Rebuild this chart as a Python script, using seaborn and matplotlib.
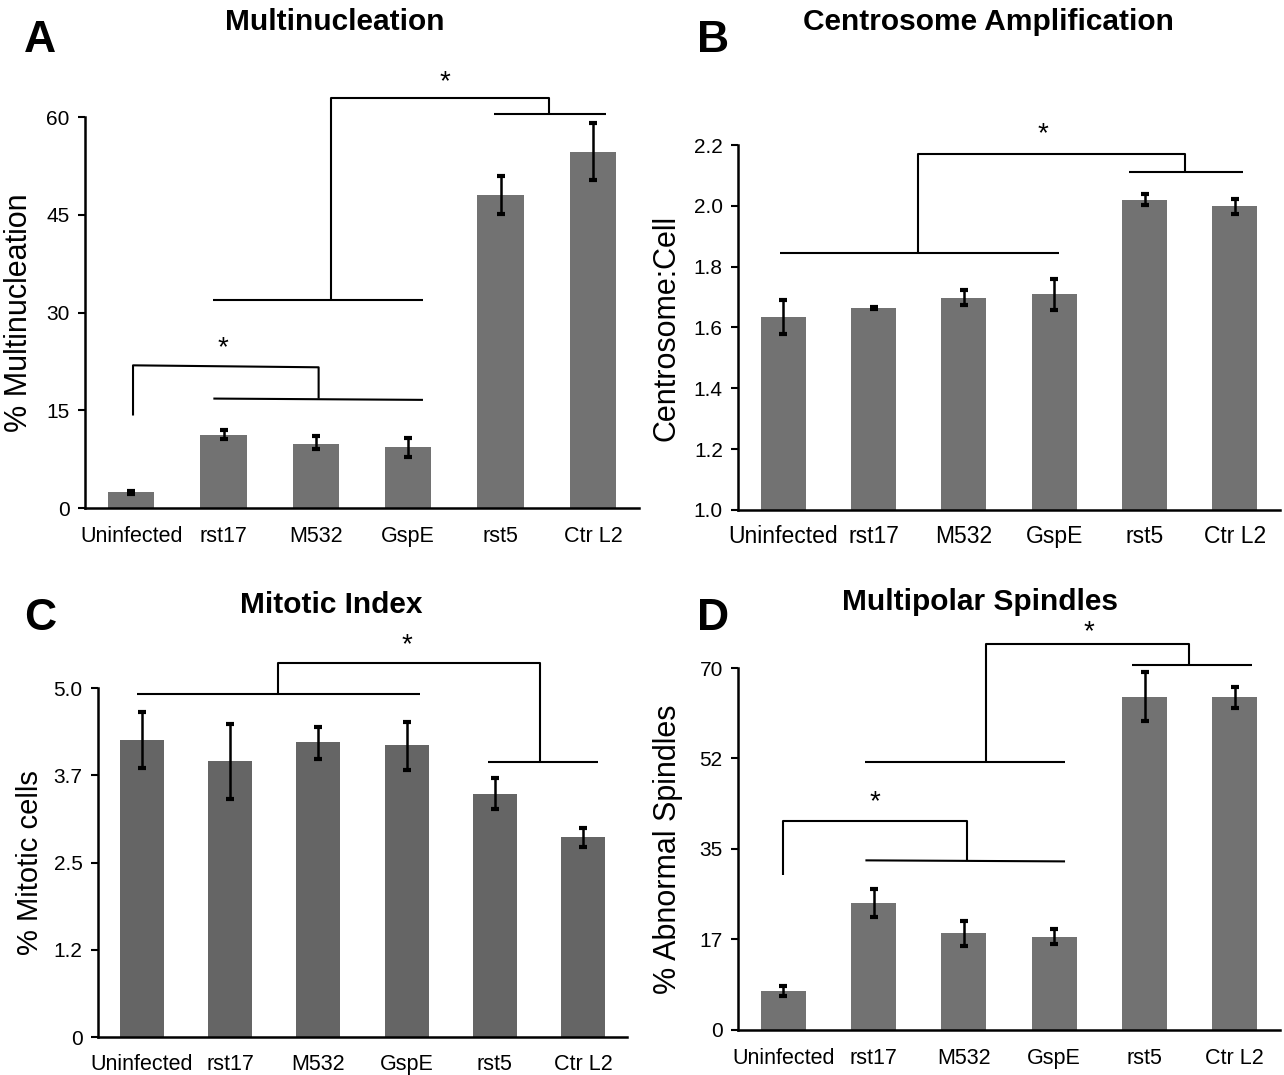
import matplotlib
matplotlib.use("Agg")
import matplotlib.pyplot as plt
import seaborn as sns
import pandas as pd
import numpy as np

sns.set_style("white")
plt.rcParams['font.family'] = ['Liberation Sans', 'DejaVu Sans']
plt.rcParams['text.color'] = 'black'
plt.rcParams['axes.labelcolor'] = 'black'
plt.rcParams['xtick.color'] = 'black'
plt.rcParams['ytick.color'] = 'black'

categories = ["Uninfected", "rst17", "M532", "GspE", "rst5", "Ctr L2"]

# Panel A: % Multinucleation
multi_vals = [2.4, 11.2, 9.9, 9.3, 48.1, 54.7]
multi_hi = [2.65, 12.0, 11.0, 10.8, 51.0, 59.1]
multi_lo = [2.15, 10.6, 9.0, 7.8, 45.2, 50.4]
multi_ticks = [0, 15, 30, 45, 60]
multi_ticklabels = ["0", "15", "30", "45", "60"]

# Panel B: Centrosome:Cell
centro_vals = [1.635, 1.665, 1.698, 1.710, 2.020, 2.000]
centro_hi = [1.691, 1.668, 1.722, 1.761, 2.038, 2.023]
centro_lo = [1.580, 1.662, 1.674, 1.659, 2.002, 1.974]
centro_ticks = [1.0, 1.2, 1.4, 1.6, 1.8, 2.0, 2.2]
centro_ticklabels = ["1.0", "1.2", "1.4", "1.6", "1.8", "2.0", "2.2"]

# Panel C: % Mitotic cells
mito_vals = [4.25, 3.95, 4.22, 4.18, 3.48, 2.86]
mito_hi = [4.65, 4.48, 4.44, 4.52, 3.71, 2.99]
mito_lo = [3.86, 3.41, 3.99, 3.82, 3.26, 2.72]
mito_ticks = [0, 1.25, 2.5, 3.75, 5.0]
mito_ticklabels = ["0", "1.2", "2.5", "3.7", "5.0"]

# Panel D: % Abnormal Spindles
spin_vals = [7.6, 24.5, 18.7, 18.0, 64.4, 64.4]
spin_hi = [8.5, 27.2, 21.0, 19.5, 69.2, 66.4]
spin_lo = [6.6, 21.9, 16.2, 16.7, 59.7, 62.3]
spin_ticks = [0, 17.5, 35, 52.5, 70]
spin_ticklabels = ["0", "17", "35", "52", "70"]

fig = plt.figure(figsize=(12.84, 10.75), dpi=100)

axA = fig.add_axes([0.0662, 0.5274, 0.4315, 0.3637])
axB = fig.add_axes([0.5748, 0.5256, 0.4221, 0.3395])
axC = fig.add_axes([0.0763, 0.0353, 0.4120, 0.3247])
axD = fig.add_axes([0.5748, 0.0419, 0.4221, 0.3367])


def panel(ax, vals, hi, lo, ticks, ticklabels, ylabel, color, xfs=15, yfs=15,
          lfs=22, labelpad=10, xpad=12):
    df = pd.DataFrame({"cat": categories, "val": vals})
    sns.barplot(data=df, x="cat", y="val", order=categories, color=color,
                saturation=1, width=0.5, errorbar=None, ax=ax, linewidth=0)
    x = np.arange(len(categories))
    v = np.array(vals)
    yerr = [v - np.array(lo), np.array(hi) - v]
    ax.errorbar(x, v, yerr=yerr, fmt='none', ecolor='black', elinewidth=1.8,
                capsize=3, capthick=3)
    ax.set_xlim(-0.5, 5.5)
    ax.set_ylim(ticks[0], ticks[-1])
    ax.set_yticks(ticks)
    ax.set_yticklabels(ticklabels, fontsize=yfs)
    ax.set_xlabel("")
    ax.set_ylabel(ylabel, fontsize=lfs, labelpad=labelpad)
    ax.tick_params(axis='x', length=0, labelsize=xfs, pad=xpad)
    ax.tick_params(axis='y', length=5, width=1.5, direction='out', left=True, pad=6)
    for s in ['top', 'right']:
        ax.spines[s].set_visible(False)
    for s in ['left', 'bottom']:
        ax.spines[s].set_linewidth(1.8)
        ax.spines[s].set_color('black')


def line(ax, xs, ys):
    ax.plot(xs, ys, color='black', lw=1.5, clip_on=False, solid_capstyle='butt')


def star(ax, x, y):
    ax.text(x, y, "*", ha='center', va='center', fontsize=20, clip_on=False)


panel(axA, multi_vals, multi_hi, multi_lo, multi_ticks, multi_ticklabels,
      "% Multinucleation", "#727272", xfs=15.5, labelpad=9, xpad=13)
panel(axB, centro_vals, centro_hi, centro_lo, centro_ticks, centro_ticklabels,
      "Centrosome:Cell", "#727272", xfs=16.5, lfs=22, labelpad=9, xpad=11)
panel(axC, mito_vals, mito_hi, mito_lo, mito_ticks, mito_ticklabels,
      "% Mitotic cells", "#656565", xfs=15.5, lfs=21, labelpad=7, xpad=12)
panel(axD, spin_vals, spin_hi, spin_lo, spin_ticks, spin_ticklabels,
      "% Abnormal Spindles", "#727272", xfs=15.5, lfs=22, labelpad=12, xpad=13)

# Panel A brackets
line(axA, [2.16, 2.16, 4.52, 4.52], [32.0, 63.0, 63.0, 60.4])
line(axA, [0.89, 3.16], [32.0, 32.0])
line(axA, [3.93, 5.14], [60.4, 60.4])
star(axA, 3.4, 65.3)
line(axA, [0.02, 0.02, 2.03, 2.03], [14.2, 21.9, 21.6, 16.8])
line(axA, [0.89, 3.16], [16.8, 16.6])
star(axA, 0.99, 24.6)

# Panel B brackets
line(axB, [1.49, 1.49, 4.45, 4.45], [1.845, 2.171, 2.171, 2.112])
line(axB, [-0.04, 3.05], [1.845, 1.845])
line(axB, [3.83, 5.09], [2.112, 2.112])
star(axB, 2.87, 2.235)

# Panel C brackets
line(axC, [1.54, 1.54, 4.51, 4.51], [4.92, 5.36, 5.36, 3.94])
line(axC, [-0.06, 3.15], [4.92, 4.92])
line(axC, [3.92, 5.17], [3.94, 3.94])
star(axC, 3.0, 5.62)

# Panel D brackets
line(axD, [2.24, 2.24, 4.49, 4.49], [51.9, 74.7, 74.7, 70.6])
line(axD, [0.91, 3.12], [51.9, 51.9])
line(axD, [3.86, 5.19], [70.6, 70.6])
star(axD, 3.38, 77.0)
line(axD, [0.0, 0.0, 2.03, 2.03], [30.0, 40.5, 40.5, 32.8])
line(axD, [0.91, 3.12], [32.8, 32.6])
star(axD, 1.02, 44.0)

# Titles and panel letters
W, H = 1284, 1075
def ftext(px, py, s, **kw):
    fig.text(px / W, 1 - py / H, s, **kw)

ftext(335, 22, "Multinucleation", ha='center', va='center', fontsize=21.5, fontweight='bold')
ftext(988, 22, "Centrosome Amplification", ha='center', va='center', fontsize=21.5, fontweight='bold')
ftext(331, 605, "Mitotic Index", ha='center', va='center', fontsize=21.5, fontweight='bold')
ftext(980, 602, "Multipolar Spindles", ha='center', va='center', fontsize=21.5, fontweight='bold')

ftext(40, 40, "A", ha='center', va='center', fontsize=32, fontweight='bold')
ftext(713, 40, "B", ha='center', va='center', fontsize=32, fontweight='bold')
ftext(40, 618, "C", ha='center', va='center', fontsize=32, fontweight='bold')
ftext(713, 618, "D", ha='center', va='center', fontsize=32, fontweight='bold')

fig.savefig("out.png", dpi=100)
